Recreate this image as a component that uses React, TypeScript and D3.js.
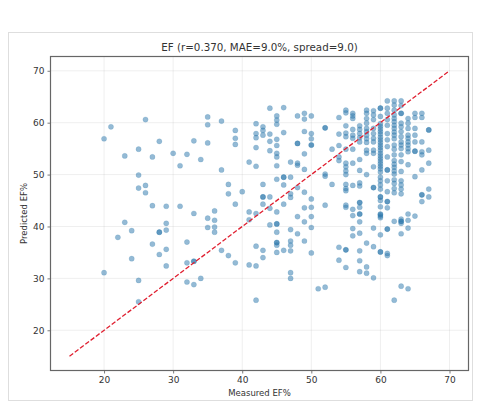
import { useEffect, useRef } from 'react'
import * as d3 from 'd3'

const WIDTH = 480
const HEIGHT = 404

const titleText = 'EF (r=0.370, MAE=9.0%, spread=9.0)'
const xLabel = 'Measured EF%'
const yLabel = 'Predicted EF%'
const xTicks = [20, 30, 40, 50, 60, 70]
const yTicks = [20, 30, 40, 50, 60, 70]
const identityLine = [15, 70]

// measured EF is whole numbers, each one has a column of predicted values
const measured = [
  20, 21, 22, 23, 24, 25, 26, 27, 28, 29, 30, 31, 32, 33, 34, 35, 36, 37, 38, 39, 40, 41, 42, 43,
  44, 45, 46, 47, 48, 49, 50, 51, 52, 53, 54, 55, 56, 57, 58, 59, 60, 61, 62, 63, 64, 65, 66, 67,
]

const predicted = [
  [56.9, 31.1],
  [59.2],
  [37.9],
  [53.6, 40.8],
  [39.2, 33.8],
  [54.9, 49.9, 47.4, 29.6, 25.5],
  [60.6, 47.9, 46.5],
  [53.4, 44, 36.6],
  [56.4, 38.9, 38.9, 34.6],
  [43.9, 40.6, 39.3, 35.6, 32.4],
  [54.1],
  [51.7, 43.9],
  [53.9, 37, 33, 29.3],
  [56.5, 42.5, 33.3, 33.3, 28.8],
  [52.9, 30],
  [61.1, 59.6, 56.1, 41.6, 39.8],
  [43, 41.2, 39.9, 38.9],
  [60.3, 50.9, 35.4],
  [48.1, 46.3, 34.4],
  [58.5, 57, 55.8, 44.3, 33],
  [46.7],
  [52.4, 42.8, 41.3, 32.6],
  [59.8, 57.9, 57.1, 55.2, 51.6, 42.5, 36.2, 32.4, 25.8],
  [59.2, 58.5, 57.6, 48.1, 45.7, 45.7, 44.3, 35.4, 34],
  [62.8, 57.8, 56.4, 54.6, 45.7, 43.5, 40.3],
  [61.3, 60.5, 59.7, 56.8, 55.6, 54.1, 53.4, 51.7, 49.1, 42.8, 40.5, 40.5, 38.9, 36.9, 36.9, 36.4, 35],
  [62.9, 58.1, 49.5, 49.5, 48, 44.3, 35.4],
  [52.4, 49.5, 46.3, 45.6, 39.4, 37.2, 36.4, 35.3, 31.1, 30],
  [61.3, 56, 56, 52.2, 51.8, 47.5, 41.9, 38.6],
  [61.8, 60.7, 58.3, 54, 51, 46.6, 43.6, 40.9, 37.2],
  [61.3, 57.9, 56.9, 55.7, 55.7, 45.3, 43.7, 41.9, 39.8, 34.9],
  [28],
  [59, 59, 50.1, 49.7, 44.1, 28.3],
  [54.9, 48.1],
  [61, 57.8, 55.6, 53.4, 52.7, 36, 33.5],
  [62.4, 61.9, 59.4, 58, 57.3, 54.9, 52.2, 51.5, 50.7, 50, 48.1, 47.3, 46.9, 44.1, 43.7, 35.5, 35.5, 32.1],
  [61.8, 61.3, 60.8, 58.7, 57.6, 57, 54.9, 52.2, 47.9, 43.3, 42.1, 39.6, 38.2],
  [59.4, 58.7, 57.9, 57.1, 56.3, 52.9, 50.8, 48.4, 47.8, 44.6, 44.6, 43.7, 42.4, 42.4, 40.9, 38.7, 35.3, 33.4, 31.3],
  [62.4, 61.8, 60.8, 59.9, 58.9, 58.3, 57.6, 56.9, 56.2, 54.7, 54.1, 50, 36.8, 32.2, 31],
  [62.3, 61.5, 60.6, 58.9, 57.9, 57, 56.3, 54.7, 54.1, 51.5, 47.5, 47.5, 39.7, 36.1, 30.1],
  [
    62.8, 62.8, 61.2, 59.8, 59.3, 58.8, 58.3, 57.8, 57.2, 56.7, 56.2, 55.7, 55.2, 54.7, 54.1, 53.6, 53.1, 52.6,
    52.1, 51.6, 51.1, 50.5, 49.5, 48.8, 48, 47.2, 45.7, 45.7, 45, 43.8, 42.4, 42.3, 42, 41.7, 38.4, 35.1, 35.1,
  ],
  [64.2, 62.8, 61.8, 60.6, 59.5, 57.9, 56.7, 55.4, 53.4, 50.9, 50.9, 48.8, 46.7, 44.8, 44.8, 43.6, 39.5, 39.5, 34.8, 34.4],
  [
    64.2, 63.4, 62.4, 61.5, 60.8, 60.2, 59.5, 58.9, 58.2, 57.6, 56.9, 55.7, 54.9, 53.8, 52.7, 52, 51.4, 50.7, 50.1,
    49, 48.3, 47.3, 46.5, 41, 25.8,
  ],
  [
    64.2, 63.3, 61.8, 61.8, 59.9, 59.2, 58.3, 57.3, 56.3, 55.7, 55, 53.8, 52.5, 50.6, 48.8, 48, 47.2, 46.3, 41.4,
    41, 41, 40.6, 38.6, 28.5,
  ],
  [60.8, 59.9, 58.9, 57.6, 57, 56.3, 55.7, 55, 54.4, 51.9, 42.4, 41.2, 39.7, 28],
  [61.8, 61, 58.9, 57.6, 56.3, 54.5, 54.5, 49.6, 42],
  [61.8, 61, 56.3, 54.4, 53.8, 50.9, 46.1, 46.1, 44.8],
  [58.6, 58.6, 54.7, 52.2, 47.2, 45.7],
]

export default function App() {
  const svgRef = useRef<SVGSVGElement>(null)

  useEffect(() => {
    if (!svgRef.current) return
    const margin = { top: 56.5, right: 11.5, bottom: 33.5, left: 50.5 }
    const W = WIDTH - margin.left - margin.right
    const H = HEIGHT - margin.top - margin.bottom

    const svg = d3.select(svgRef.current)
    svg.selectAll('*').remove()

    // Outer frame of the figure
    svg.append('rect')
      .attr('x', 8.5).attr('y', 32.5)
      .attr('width', 464).attr('height', 368)
      .attr('fill', '#fff')
      .attr('stroke', '#dedede')
      .attr('stroke-width', 1)

    const xScale = d3.scaleLinear().domain([12.25, 72.75]).range([0, W])
    const yScale = d3.scaleLinear().domain([12.25, 72.75]).range([H, 0])

    const g = svg.append('g').attr('transform', `translate(${margin.left},${margin.top})`)

    // Grid
    g.append('g')
      .selectAll('line')
      .data(xTicks)
      .join('line')
      .attr('x1', d => xScale(d)).attr('x2', d => xScale(d))
      .attr('y1', 0).attr('y2', H)
      .attr('stroke', '#b0b0b0')
      .attr('stroke-opacity', 0.3)
      .attr('stroke-width', 0.7)

    g.append('g')
      .selectAll('line')
      .data(yTicks)
      .join('line')
      .attr('x1', 0).attr('x2', W)
      .attr('y1', d => yScale(d)).attr('y2', d => yScale(d))
      .attr('stroke', '#b0b0b0')
      .attr('stroke-opacity', 0.3)
      .attr('stroke-width', 0.7)

    // Points
    const points = measured.flatMap((m, i) => predicted[i].map(p => ({ m, p })))
    g.append('g')
      .selectAll('circle')
      .data(points)
      .join('circle')
      .attr('cx', d => xScale(d.m))
      .attr('cy', d => yScale(d.p))
      .attr('r', 2.6)
      .attr('fill', '#2a76ab')
      .attr('fill-opacity', 0.5)
      .attr('stroke', '#2a76ab')
      .attr('stroke-opacity', 0.25)
      .attr('stroke-width', 0.6)

    // Identity line
    g.append('path')
      .attr('d', d3.line<number>().x(d => xScale(d)).y(d => yScale(d))(identityLine))
      .attr('fill', 'none')
      .attr('stroke', '#e01f30')
      .attr('stroke-width', 1.3)
      .attr('stroke-dasharray', '4.6 2')

    // Axes
    const styleAxis = (sel: d3.Selection<SVGGElement, unknown, null, undefined>) => {
      sel.select('.domain').remove()
      sel.selectAll('.tick line').attr('stroke', '#444').attr('stroke-width', 0.7)
      sel.selectAll('text')
        .attr('fill', '#333')
        .attr('font-size', 9)
        .attr('font-family', '"DejaVu Sans", sans-serif')
    }
    g.append('g')
      .attr('transform', `translate(0,${H})`)
      .call(d3.axisBottom(xScale).tickValues(xTicks).tickSize(3).tickPadding(3))
      .call(styleAxis)
    g.append('g')
      .call(d3.axisLeft(yScale).tickValues(yTicks).tickSize(3).tickPadding(3))
      .call(styleAxis)

    // Spines
    g.append('rect')
      .attr('width', W).attr('height', H)
      .attr('fill', 'none')
      .attr('stroke', '#666')
      .attr('stroke-width', 1.2)

    // Labels
    const text = (x: number, y: number, s: string, size: number) =>
      svg.append('text')
        .attr('x', x).attr('y', y)
        .attr('text-anchor', 'middle')
        .attr('font-family', '"DejaVu Sans", sans-serif')
        .attr('font-size', size)
        .attr('fill', '#333')
        .text(s)

    text(margin.left + W / 2, 51, titleText, 10.3)
    text(margin.left + W / 2, 396, xLabel, 8.5)
    text(0, 0, yLabel, 8.5).attr('transform', `translate(27,${margin.top + H / 2}) rotate(-90)`)
  }, [])

  return (
    <svg
      ref={svgRef}
      width={WIDTH}
      height={HEIGHT}
      style={{ position: 'absolute', left: 0, top: 0, background: '#fff' }}
    />
  )
}
